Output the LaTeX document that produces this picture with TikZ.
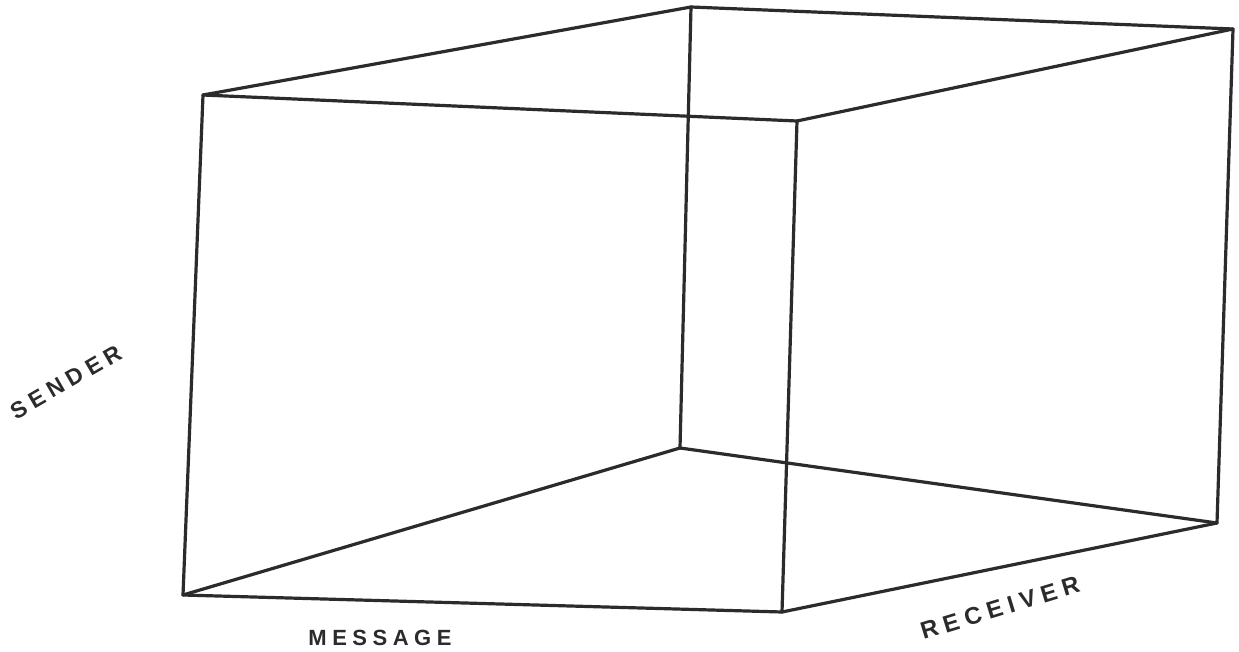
\documentclass[tikz,border=0pt]{standalone}
\usepackage{fontspec}
\newfontfamily\handfont[LetterSpace=25]{Liberation Sans Bold}
\definecolor{ink}{HTML}{2B2B2E}
\begin{document}
\begin{tikzpicture}[x=1pt,y=-1pt,
  edge/.style={draw=ink,line width=3.2pt,line cap=round,line join=round},
  lbl/.style={text=ink,font=\handfont\fontsize{22}{22}\selectfont,inner sep=0pt}]
\useasboundingbox (0,0) rectangle (1239,652);
% vertices
\coordinate (ftl) at (203,95);
\coordinate (ftr) at (797,121);
\coordinate (btl) at (691,7);
\coordinate (btr) at (1233,29);
\coordinate (fbl) at (183,595);
\coordinate (fbr) at (782,612);
\coordinate (bbl) at (680,448);
\coordinate (bbr) at (1217,523);
% back edges
\draw[edge] (btl) -- (bbl);
\draw[edge] (fbl) -- (bbl);
\draw[edge] (bbl) -- (bbr);
% top
\draw[edge] (ftl) -- (btl);
\draw[edge] (btl) -- (btr);
\draw[edge] (btr) -- (ftr);
\draw[edge] (ftl) -- (ftr);
% verticals
\draw[edge] (ftl) -- (fbl);
\draw[edge] (ftr) -- (fbr);
\draw[edge] (btr) -- (bbr);
% bottom
\draw[edge] (fbl) -- (fbr);
\draw[edge] (fbr) -- (bbr);
% labels
\node[lbl,rotate=30,font=\handfont\fontsize{23}{23}\selectfont] (sender) at (66,382) {SENDER};
\node[lbl] (message) at (380,638) {MESSAGE};
\node[lbl,rotate=17,font=\handfont\fontsize{24}{24}\selectfont] (receiver) at (1000,608) {RECEIVER};
\end{tikzpicture}
\end{document}
